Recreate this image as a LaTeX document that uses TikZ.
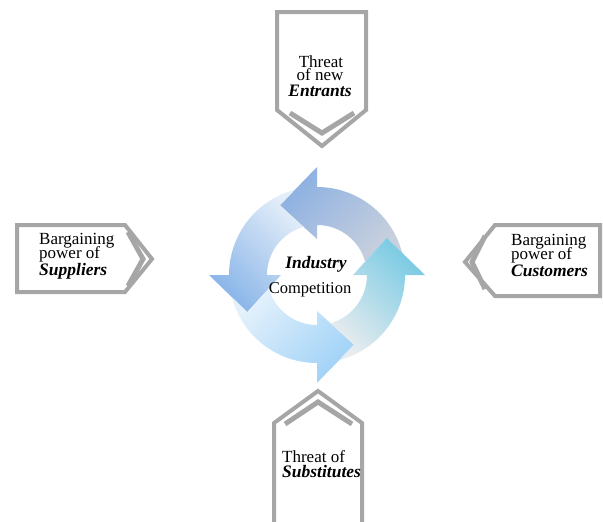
\documentclass[tikz,border=0pt]{standalone}
\usepackage{fontspec}
\setmainfont{Liberation Serif}
\definecolor{framegray}{HTML}{A6A6A6}
\definecolor{topL}{HTML}{C9D0DD}
\definecolor{topD}{HTML}{8DB1E2}
\definecolor{leftL}{HTML}{E4EEF9}
\definecolor{leftD}{HTML}{88B4E8}
\definecolor{botL}{HTML}{E4F1FB}
\definecolor{botD}{HTML}{A0D2F7}
\definecolor{rightL}{HTML}{E8ECEF}
\definecolor{rightD}{HTML}{78CAE3}
\begin{document}
\begin{tikzpicture}[x=1pt,y=-1pt,
  frame/.style={draw=framegray, line width=4pt, line join=miter, miter limit=2},
  chev/.style={draw=framegray, line width=5pt},
  lbl/.style={inner sep=0pt, font=\fontsize{17}{17}\selectfont},
  keyword/.style={inner sep=0pt, font=\fontsize{17.5}{17.5}\selectfont\bfseries\itshape},
]
\useasboundingbox (0,0) rectangle (603,522);

% ---- four curved arrows forming the cycle ----
\begin{scope}[shift={(317,275)}, y=1pt]
  \foreach \h/\lc/\dc [evaluate=\h as \sa using \h-45] in
      {90/topL/topD, 180/leftL/leftD, 270/botL/botD, 0/rightL/rightD}{
    \shade[bottom color=\lc, top color=\dc, shading angle=\sa]
      ({\h-75.4}:88) arc[start angle={\h-75.4}, end angle=\h, radius=88]
      -- (\h:108) -- ({\h+28}:79) -- (\h:36) -- (\h:50)
      arc[start angle=\h, end angle={\h-74.5}, radius=50]
      -- ({\h-62}:79) -- cycle;
  }
\end{scope}

% ---- centre text ----
\node[keyword, anchor=base] (ind) at (316,268) {Industry};
\node[lbl, font=\fontsize{16.5}{16.5}\selectfont, anchor=base] (comp) at (310,293) {Competition};

% ---- threat of new entrants (top) ----
\draw[frame] (277,12) -- (366,12) -- (366,110) -- (322,146) -- (277,110) -- cycle;
\draw[chev] (290,113) -- (322,133) -- (354,113);
\node[lbl, anchor=base] (ent1) at (321,67) {Threat};
\node[lbl, anchor=base] (ent2) at (320,80) {of new};
\node[keyword, anchor=base] (ent3) at (320,96) {Entrants};

% ---- bargaining power of suppliers (left) ----
\draw[frame] (17,225) -- (125,225) -- (152,259) -- (125,292) -- (17,292) -- cycle;
\draw[chev] (128,232) -- (143,259) -- (128,286);
\node[lbl, anchor=base west] (sup1) at (39,244) {Bargaining};
\node[lbl, anchor=base west] (sup2) at (39,258) {power of};
\node[keyword, anchor=base west] (sup3) at (39,275) {Suppliers};

% ---- bargaining power of customers (right) ----
\draw[frame] (600,225) -- (495,225) -- (465,262) -- (495,296) -- (600,296) -- cycle;
\draw[chev] (485,236) -- (472,262) -- (485,289);
\node[lbl, anchor=base west] (cus1) at (511,245) {Bargaining};
\node[lbl, anchor=base west] (cus2) at (511,259) {power of};
\node[keyword, anchor=base west] (cus3) at (511,276) {Customers};

% ---- threat of substitutes (bottom) ----
\begin{scope}
  \clip (0,0) rectangle (603,522);
  \draw[frame] (274,540) -- (274,423) -- (318,391) -- (362,423) -- (362,540);
\end{scope}
\draw[chev] (285,424) -- (318,402) -- (352,424);
\node[lbl, anchor=base west] (sub1) at (282,462) {Threat of};
\node[keyword, anchor=base west] (sub2) at (282,477) {Substitutes};
\end{tikzpicture}
\end{document}
